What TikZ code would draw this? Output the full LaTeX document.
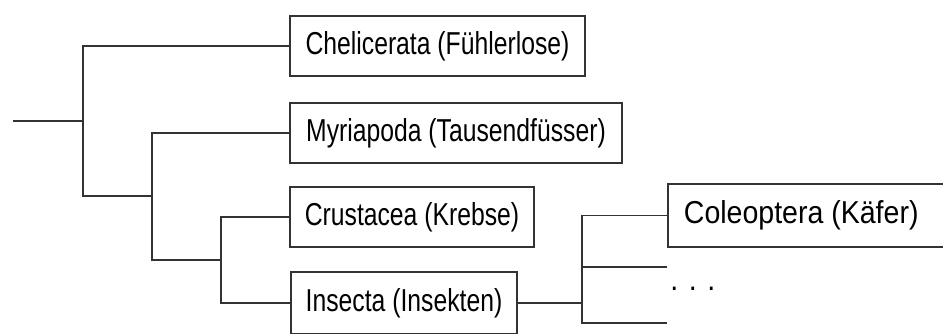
\documentclass[tikz,border=0pt]{standalone}
\usepackage{fontspec}
\usepackage{tikz}
\usetikzlibrary{positioning}
\newfontfamily\taxfont[FakeStretch=0.78]{Liberation Sans}
\newfontfamily\leaffont[FakeStretch=0.90]{Liberation Sans}
\tikzset{
    taxnode/.style = {rectangle, line width=0.9pt, draw=black!80, align=center, fill=white, minimum height=30pt, inner xsep=0pt, font=\taxfont\fontsize{15.85}{19}\selectfont, text=black},
    leafnode/.style = {rectangle, line width=0.9pt, draw=black!80, align=flush left, fill=white, minimum height=31.5pt, inner xsep=8pt, text width=135pt, anchor=west, font=\leaffont\fontsize{15.85}{19}\selectfont, text=black},
    edgen/.style = {-, line width=0.8pt, black!80}
}
\begin{document}
\begin{tikzpicture}[x=0.5pt,y=-0.5pt]
\useasboundingbox (0,0) rectangle (943,333);
%
\node[taxnode,minimum width=147.5pt] at (437.5,46) (chel) {Chelicerata (Fühlerlose)};
\node[taxnode,minimum width=166pt] at (456,133) (myri) {Myriapoda (Tausendfüsser)};
\node[taxnode,minimum width=122pt] at (412,217) (crus) {Crustacea (Krebse)};
\node[taxnode,minimum width=113pt,minimum height=31pt] at (404,303) (inse) {Insecta (Insekten)};
\node[leafnode] at (667,215.5) (cole) {Coleoptera (Käfer)};
\node[anchor=base west,font=\leaffont\fontsize{15.85}{19}\selectfont,inner sep=0pt] at (670,290) (dots) {. . .};
%
\coordinate (root) at (13,121);
\coordinate (n1) at (83,121);
\coordinate (n2) at (152,196);
\coordinate (n3) at (221,260);
\coordinate (n4) at (582,303);
\coordinate (o1) at (667,267);
\coordinate (o2) at (667,323);
%
\draw[edgen] (root) -- (n1);
\draw[edgen] (chel.west) -| (n1) |- (n2);
\draw[edgen] (myri.west) -| (n2) |- (n3);
\draw[edgen] (crus.west) -| (n3) |- (inse.west);
\draw[edgen] (inse.east) -- (n4);
\draw[edgen] (cole.west) -| (n4) |- (o2);
\draw[edgen] (o1) -| (n4);

\end{tikzpicture}
\end{document}
